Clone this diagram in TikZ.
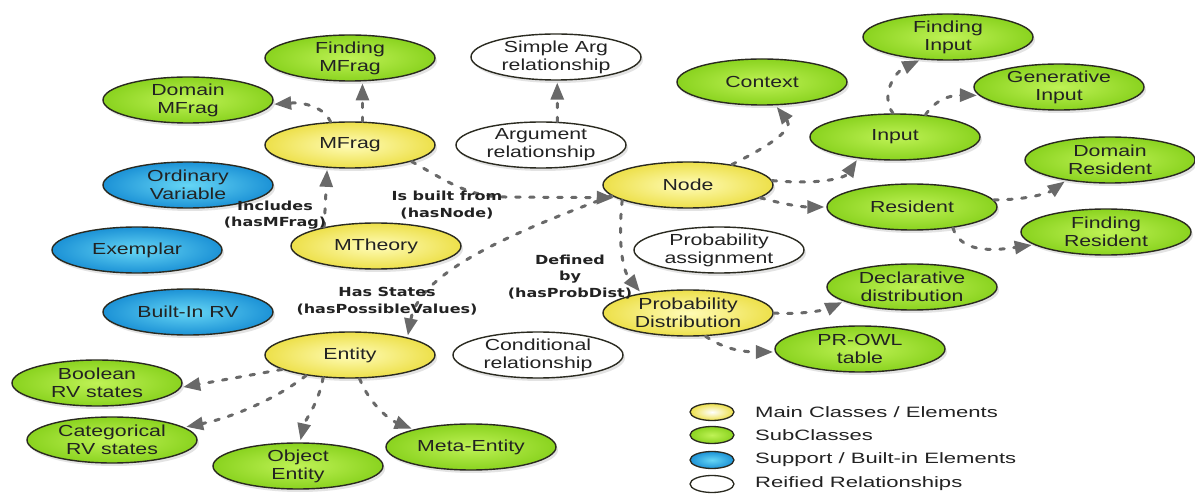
\documentclass[tikz,border=0pt]{standalone}
\usepackage{fontspec}
\setmainfont{Liberation Sans}[FakeStretch=1.33]
\newfontfamily\lblfont{DejaVu Sans}[FakeStretch=1.28]
\newfontfamily\legfont{Liberation Sans}[FakeStretch=1.47]
\usetikzlibrary{shapes.geometric,arrows.meta,shadows}

\definecolor{grnO}{HTML}{8AD31F}
\definecolor{grnI}{HTML}{BFF256}
\definecolor{yelO}{HTML}{EDE04A}
\definecolor{yelI}{HTML}{FFFCB8}
\definecolor{bluO}{HTML}{1C92D6}
\definecolor{bluI}{HTML}{66D6F5}
\definecolor{edgeC}{HTML}{696969}
\definecolor{bordC}{HTML}{2A2A20}
\definecolor{txtC}{HTML}{222222}

\tikzset{
 base/.style={ellipse, draw=bordC, line width=1.4pt, minimum width=170pt, minimum height=46pt,
   inner xsep=0pt, inner ysep=-8pt, align=center, font=\fontsize{16}{18}\selectfont, text=txtC,
   drop shadow={opacity=0.22, shadow xshift=2pt, shadow yshift=-3pt}},
 gnode/.style={base, shade, inner color=grnI, outer color=grnO},
 ynode/.style={base, shade, inner color=yelI, outer color=yelO},
 bnode/.style={base, shade, inner color=bluI, outer color=bluO},
 wnode/.style={base, fill=white},
 arr/.style={draw=edgeC, line width=3pt, line cap=round, dash pattern=on 4.5pt off 9.5pt,
   shorten >=2pt, -{Triangle[length=17pt,width=13pt]}},
 elabel/.style={align=center, font=\lblfont\bfseries\fontsize{12.5}{16.5}\selectfont, text=txtC, inner sep=0pt},
 legE/.style={ellipse, draw=bordC, line width=1.3pt, minimum width=44pt, minimum height=17pt, inner sep=0pt},
 legT/.style={anchor=west, font=\legfont\fontsize{15}{17}\selectfont, text=txtC, inner sep=0pt},
}

\begin{document}
\begin{tikzpicture}[x=1pt,y=1pt]
\fill[white] (0,0) rectangle (1195,-494);
\useasboundingbox (0,0) rectangle (1195,-494);

% nodes
\node[gnode] (fmfrag) at (350,-58) {Finding\\MFrag};
\node[gnode] (dmfrag) at (188,-100) {Domain\\MFrag};
\node[ynode] (mfrag) at (350,-145) {MFrag};
\node[bnode] (ordvar) at (188,-185) {Ordinary\\Variable};
\node[bnode] (exemplar) at (137,-250) {Exemplar};
\node[bnode] (builtin) at (188,-312) {Built-In RV};
\node[ynode] (mtheory) at (376,-246) {MTheory};
\node[ynode] (entity) at (350,-355) {Entity};
\node[gnode] (boolean) at (97,-383) {Boolean\\RV states};
\node[gnode] (categ) at (112,-440) {Categorical\\RV states};
\node[gnode] (objent) at (298,-466) {Object\\Entity};
\node[gnode] (metaent) at (471,-447) {Meta-Entity};
\node[wnode] (simplearg) at (556,-57) {Simple Arg\\relationship};
\node[wnode] (argrel) at (541,-145) {Argument\\relationship};
\node[ynode] (node) at (688,-185) {Node};
\node[gnode] (context) at (762,-82) {Context};
\node[gnode] (findinput) at (948,-37) {Finding\\Input};
\node[gnode] (geninput) at (1059,-87) {Generative\\Input};
\node[gnode] (input) at (895,-137) {Input};
\node[gnode] (domres) at (1110,-160) {Domain\\Resident};
\node[gnode] (resident) at (912,-207) {Resident};
\node[gnode] (findres) at (1106,-232) {Finding\\Resident};
\node[wnode] (probassign) at (719,-250) {Probability\\assignment};
\node[ynode] (probdist) at (688,-313) {Probability\\Distribution};
\node[wnode] (condrel) at (538,-355) {Conditional\\relationship};
\node[gnode] (decl) at (912,-287) {Declarative\\distribution};
\node[gnode] (prowl) at (860,-349) {PR-OWL\\table};

% connectors
\draw[arr] (mfrag.130) .. controls (325,-108) and (305,-102) .. (dmfrag.-3);
\draw[arr] (mfrag.62) -- (fmfrag.-62);
\draw[arr] (mtheory.160) -- (mfrag.-135);
\draw[arr] (mfrag.-15) .. controls (445,-180) and (468,-197) .. (505,-197) -- (node.190);
\draw[arr] (argrel.55) -- (simplearg.-87);
\draw[arr] (node.25) .. controls (765,-148) and (795,-130) .. (context.-60);
\draw[arr] (node.3) .. controls (820,-185) and (845,-178) .. (input.-150);
\draw[arr] (node.-10) .. controls (790,-206) and (805,-207) .. (resident.west);
\draw[arr] (input.95) .. controls (880,-95) and (895,-72) .. (findinput.-140);
\draw[arr] (input.36) .. controls (935,-100) and (950,-95) .. (geninput.-174);
\draw[arr] (resident.5) .. controls (1030,-200) and (1050,-192) .. (domres.-155);
\draw[arr] (resident.-27) .. controls (960,-250) and (985,-252) .. (findres.-170);
\draw[arr] (node.-167) .. controls (618,-240) and (622,-270) .. (probdist.157);
\draw[arr] (node.-172) .. controls (520,-230) and (420,-270) .. (entity.17);
\draw[arr] (probdist.east) .. controls (800,-315) and (825,-310) .. (decl.-168);
\draw[arr] (probdist.-53) .. controls (725,-350) and (745,-352) .. (prowl.-178);
\draw[arr] (entity.-168) -- (boolean.-3);
\draw[arr] (entity.-155) .. controls (275,-400) and (230,-418) .. (categ.10);
\draw[arr] (entity.-140) .. controls (318,-405) and (305,-420) .. (objent.85);
\draw[arr] (entity.-68) .. controls (370,-405) and (390,-420) .. (metaent.163);

% connector labels
\node[elabel] (lincl) at (275,-215) {Includes\\(hasMFrag)};
\node[elabel] (lbuilt) at (447,-205) {Is built from\\(hasNode)};
\node[elabel] (lhas) at (387,-301) {Has States\\(hasPossibleValues)};
\node[elabel] (ldef) at (570,-277) {Defined\\by\\(hasProbDist)};

% legend
\node[legE, shade, inner color=white, outer color=yelO] (le1) at (712,-412) {};
\node[legE, shade, inner color=grnI, outer color=grnO] (le2) at (712,-435) {};
\node[legE, shade, inner color=bluI, outer color=bluO] (le3) at (712,-460) {};
\node[legE, fill=white] (le4) at (712,-484) {};
\node[legT] (lt1) at (755,-412) {Main Classes / Elements};
\node[legT] (lt2) at (755,-435) {SubClasses};
\node[legT] (lt3) at (755,-460) {Support / Built-in Elements};
\node[legT] (lt4) at (755,-484) {Reified Relationships};
\end{tikzpicture}
\end{document}
